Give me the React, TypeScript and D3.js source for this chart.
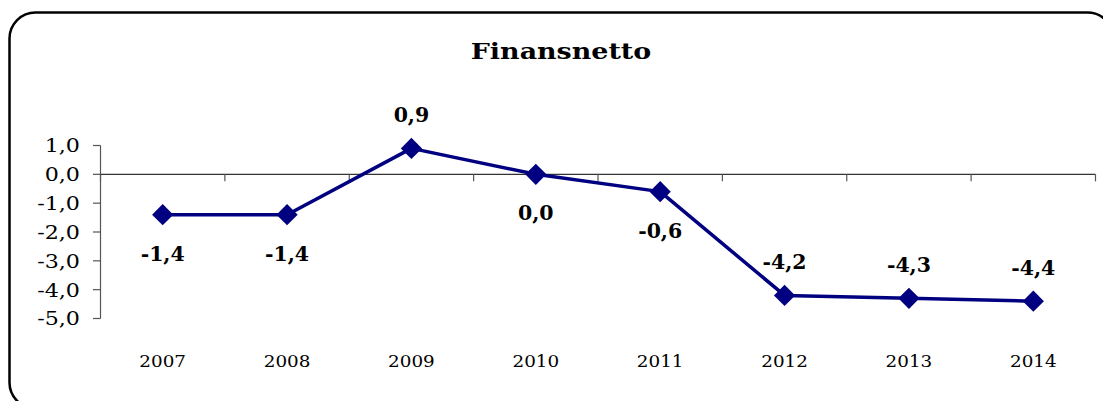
import React, { useEffect, useRef } from 'react';
import * as d3 from 'd3';

const years = ['2007', '2008', '2009', '2010', '2011', '2012', '2013', '2014'];
const values = [-1.4, -1.4, 0.9, 0.0, -0.6, -4.2, -4.3, -4.4];
const labelPlacement = ['below', 'below', 'above', 'below', 'below', 'above', 'above', 'above'];
const yTicks = [1, 0, -1, -2, -3, -4, -5];

const FONT = '"DejaVu Serif", "Liberation Serif", serif';

const App = () => {
  const svgRef = useRef<SVGSVGElement>(null);

  useEffect(() => {
    const width = 1103;
    const height = 401;
    const svg = d3.select(svgRef.current);
    svg.selectAll('*').remove();
    svg.attr('width', width).attr('height', height);

    // frame, runs past the right and bottom edge like the original
    svg.append('rect')
      .attr('x', 9.5).attr('y', 12.5)
      .attr('width', 1104).attr('height', 396)
      .attr('rx', 26).attr('ry', 26)
      .attr('fill', 'white')
      .attr('stroke', '#000')
      .attr('stroke-width', 2.5);

    const fmt = (v: number) => d3.format('.1f')(v).replace('.', ',').replace('−', '-');

    const x = d3.scaleBand().domain(years).range([100.5, 1095.5]).padding(0);
    const y = d3.scaleLinear().domain([-5, 1]).range([318.5, 145.5]);
    const cx = (d: string) => (x(d) as number) + x.bandwidth() / 2;

    // title
    svg.append('text')
      .attr('transform', 'translate(561,59) scale(1.17,1)')
      .attr('text-anchor', 'middle')
      .style('font-family', FONT)
      .style('font-weight', 'bold')
      .style('font-size', '23px')
      .text('Finansnetto');

    // y axis
    const yAxis = svg.append('g');
    yAxis.append('line')
      .attr('x1', 100.5).attr('x2', 100.5)
      .attr('y1', y(1)).attr('y2', y(-5))
      .attr('stroke', '#555').attr('stroke-width', 1.2);
    yAxis.selectAll('line.tick')
      .data(yTicks)
      .enter()
      .append('line')
      .attr('class', 'tick')
      .attr('x1', 93).attr('x2', 100.5)
      .attr('y1', d => y(d)).attr('y2', d => y(d))
      .attr('stroke', '#555').attr('stroke-width', 1.2);
    yAxis.selectAll('text')
      .data(yTicks)
      .enter()
      .append('text')
      .attr('transform', d => `translate(80,${y(d)}) scale(1.17,1)`)
      .attr('dy', '0.36em')
      .attr('text-anchor', 'end')
      .style('font-family', FONT)
      .style('font-size', '19px')
      .text(d => fmt(d));

    // x axis at zero
    const xAxis = svg.append('g');
    xAxis.append('line')
      .attr('x1', 100.5).attr('x2', 1095.5)
      .attr('y1', y(0)).attr('y2', y(0))
      .attr('stroke', '#333').attr('stroke-width', 1.2);
    const bounds = years.map(d => x(d) as number).concat([1095.5]);
    xAxis.selectAll('line.tick')
      .data(bounds)
      .enter()
      .append('line')
      .attr('class', 'tick')
      .attr('x1', d => d).attr('x2', d => d)
      .attr('y1', y(0)).attr('y2', y(0) + 7)
      .attr('stroke', '#555').attr('stroke-width', 1.2);
    xAxis.selectAll('text')
      .data(years)
      .enter()
      .append('text')
      .attr('transform', d => `translate(${cx(d)},367) scale(1.08,1)`)
      .attr('text-anchor', 'middle')
      .style('font-family', FONT)
      .style('font-size', '17px')
      .text(d => d);

    // series
    const pts = years.map((d, i) => ({ year: d, value: values[i], pos: labelPlacement[i] }));
    const line = d3.line<{ year: string; value: number }>()
      .x(d => cx(d.year))
      .y(d => y(d.value));
    svg.append('path')
      .datum(pts)
      .attr('d', line)
      .attr('fill', 'none')
      .attr('stroke', '#000080')
      .attr('stroke-width', 3.5)
      .attr('stroke-linejoin', 'round');

    const diamond = d3.symbol().type(d3.symbolSquare).size(225);
    svg.selectAll('path.marker')
      .data(pts)
      .enter()
      .append('path')
      .attr('class', 'marker')
      .attr('d', diamond)
      .attr('transform', d => `translate(${cx(d.year)},${y(d.value)}) rotate(45)`)
      .attr('fill', '#000080');

    svg.selectAll('text.label')
      .data(pts)
      .enter()
      .append('text')
      .attr('class', 'label')
      .attr('transform', d => `translate(${cx(d.year)},${y(d.value) + (d.pos === 'below' ? 46 : -26)}) scale(1.05,1)`)
      .attr('text-anchor', 'middle')
      .style('font-family', FONT)
      .style('font-weight', 'bold')
      .style('font-size', '19.5px')
      .text(d => fmt(d.value));
  }, []);

  return (
    <div style={{ position: 'absolute', left: 0, top: 0 }}>
      <svg ref={svgRef} style={{ display: 'block' }}></svg>
    </div>
  );
};

export default App;
